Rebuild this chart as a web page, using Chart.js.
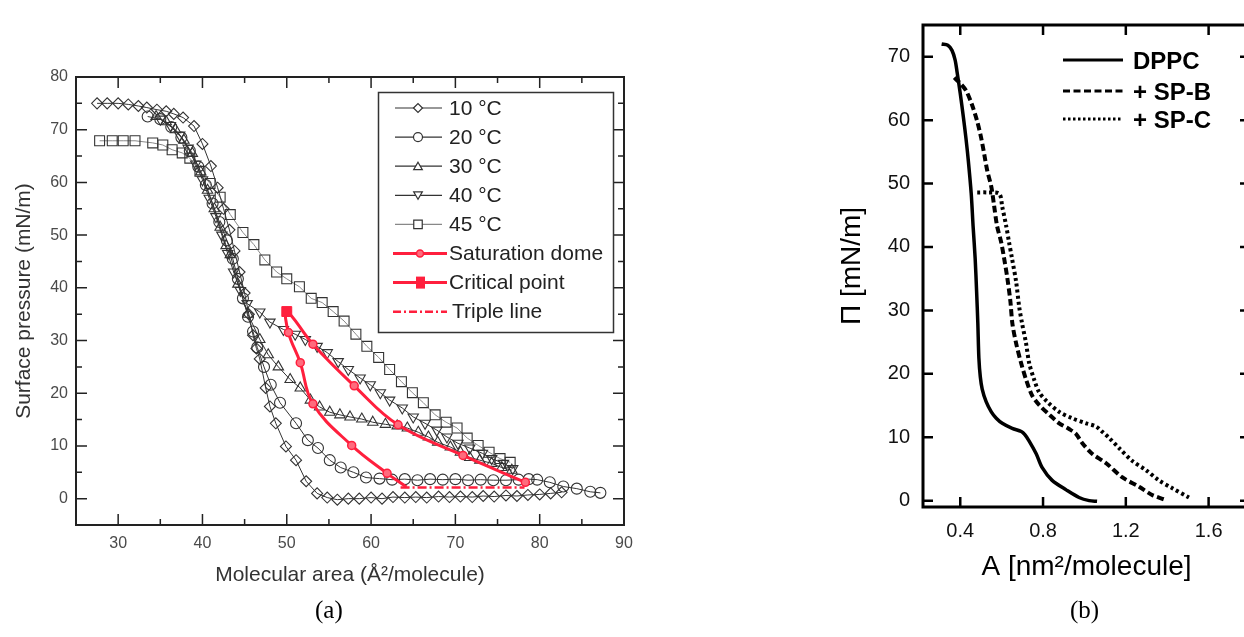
<!DOCTYPE html>
<html><head><meta charset="utf-8">
<script src="https://cdn.jsdelivr.net/npm/chart.js@4/dist/chart.umd.min.js"></script>
<style>
html,body{margin:0;padding:0;background:#fff;width:1244px;height:637px;overflow:hidden;position:relative;}
#wa{position:absolute;left:0;top:0;width:650px;height:600px;}
#wb{position:absolute;left:820px;top:0;width:440px;height:600px;}
.cap{position:absolute;font-family:'Liberation Serif','DejaVu Serif',serif;font-size:25px;top:596px;color:#000;}
</style></head><body>
<div id="wa"><canvas id="ca" width="650" height="600"></canvas></div>
<div id="wb"><canvas id="cb" width="440" height="600"></canvas></div>
<div class="cap" style="left:315px">(a)</div>
<div class="cap" style="left:1070px">(b)</div>
<script>
// ---------- Panel (a) data : [molecular area (Å²), surface pressure (mN/m)] ----------
const xTicksA = [30,40,50,60,70,80,90];
const xMinorA = [35,45,55,65,75,85];
const yTicksA = [0,10,20,30,40,50,60,70,80];
const yMinorA = [5,15,25,35,45,55,65,75];

const t10 = [[27.5,75],[28.7,75],[30,75],[31.2,74.8],[32.4,74.5],[33.4,74.2],[34.6,73.8],[35.7,73.5],[36.6,73],[37.7,72.3],[39,70.7],[40,67.3],[41,63.1],[41.8,59],[42.5,55],[43.2,51],[43.8,47],[44.4,43],[45,39],[45.5,35],[46,31],[46.4,28.5],[46.8,26.5],[47.5,21],[48,17.5],[48.7,14.3],[49.9,9.9],[51.1,7.3],[52.3,3.3],[53.6,1],[54.8,0.2],[56,-0.2],[57.3,0],[58.6,0],[60,0.2],[61.3,0],[62.6,0.3],[64,0.2],[65.3,0.3],[66.6,0.2],[68,0.4],[69.3,0.3],[70.6,0.4],[72,0.3],[73.3,0.5],[74.6,0.4],[76,0.6],[77.3,0.5],[78.6,0.7],[80,0.8],[81.3,1],[82.6,1.2]];
const t20 = [[33.5,72.5],[35,72],[36.3,70.5],[37.5,68.5],[38.5,66],[39.5,63],[40.4,59.5],[41.2,56],[42,52.5],[42.9,49],[43.6,45.5],[44.2,41.7],[44.8,38],[45.4,34.5],[46,31.7],[46.5,28.7],[47.3,25],[48.1,21.6],[49.2,18.2],[51.1,14.3],[52.5,11.1],[53.7,9.6],[55.1,7.3],[56.4,5.9],[57.9,5],[59.4,4],[61,3.8],[62.5,3.6],[64,3.7],[65.5,3.5],[67,3.7],[68.5,3.6],[70,3.7],[71.5,3.5],[73,3.6],[74.5,3.5],[76,3.5],[77.5,3.6],[78.7,3.7],[79.7,3.6],[81.2,3.1],[82.8,2.3],[84.4,1.9],[86,1.3],[87.2,1.1]];
const t30 = [[34.5,72.5],[35.7,71.5],[36.8,70],[37.8,68],[38.8,65.5],[39.8,62],[40.6,58.5],[41.4,55],[42.1,51.5],[42.8,48],[43.3,46.3],[44.2,40.7],[45.4,35],[46.8,30.2],[47.8,27.3],[49,25],[50.4,22.6],[51.6,21],[52.8,18.7],[53.9,17.4],[55.1,16.4],[56.3,15.9],[57.5,15.5],[58.9,15.1],[60.2,14.5],[61.7,14.1],[63.1,13.8],[64.3,13.4],[65.6,12.6],[66.8,11.7],[67.9,10.7],[69.4,9.8],[70.6,8.8],[71.7,7.8],[72.9,7.3],[74.3,6.7],[75.5,5.9],[76.7,5.4]];
const t40 = [[35,72],[36.2,70.8],[37.3,69],[38.3,66.5],[39.2,63.5],[40,60.5],[40.8,57],[41.6,53.5],[42.3,50],[43,46.5],[43.7,43],[44.5,39.5],[45.3,37],[46.8,35.4],[48,33.5],[49.6,32.1],[51,31.2],[52.2,30.2],[53.6,28.9],[54.8,27.7],[56.1,26],[57.3,24.5],[58.7,22.9],[59.9,21.6],[61.1,20.1],[62.2,18.7],[63.7,17.2],[65,15.5],[66.4,14.3],[67.8,13],[69,11.7],[70.3,10.5],[71.7,9.6],[73.2,8.6],[74.3,7.6],[75.7,6.7],[76.8,5.7]];
const t45 = [[27.8,67.9],[29.3,67.9],[30.6,67.9],[32,67.9],[34.1,67.5],[35.3,67.1],[36.4,66.2],[37.6,65.6],[38.5,64.6],[39.7,62.1],[40.9,59.8],[42.1,57.2],[43.3,53.9],[44.8,50.5],[46.1,48.2],[47.4,45.3],[48.8,43],[50,41.7],[51.5,40.2],[52.9,38],[54.2,37.2],[55.5,35.5],[56.8,33.7],[58.2,31.2],[59.5,28.9],[60.9,26.8],[62.2,24.5],[63.6,22.2],[64.9,20.1],[66.2,18.2],[67.6,15.9],[68.9,14.5],[70.2,13.4],[71.4,11.5],[72.7,10.1],[74,8.8],[75.3,7.6],[76.5,6.9]];
const dome = [[64.2,2.2],[61.9,4.8],[57.7,10.1],[53.1,18],[51.6,25.8],[50.2,31.5],[50,35.5],[53.1,29.3],[58,21.4],[63.2,14],[70.9,8.2],[78.3,3.1]];
const critical = [[50,35.5]];
const triple = [[63.5,2.1],[78.2,2.1]];

// ---------- Panel (b) data : [A (nm²/molecule), Π (mN/m)] ----------
const xTicksB = [0.4,0.8,1.2,1.6];
const yTicksB = [0,10,20,30,40,50,60,70];
const dppc = [[0.31,72],[0.34,71.8],[0.36,71],[0.375,69.5],[0.385,67.5],[0.40,64.2],[0.415,60.5],[0.428,57],[0.439,53.6],[0.453,48.4],[0.462,43.3],[0.472,38.2],[0.479,33],[0.485,27.9],[0.49,22.5],[0.497,19.5],[0.506,17.6],[0.525,15.6],[0.55,14],[0.574,13],[0.603,12.2],[0.651,11.4],[0.695,10.9],[0.712,10.4],[0.733,9.4],[0.767,7.4],[0.796,5.2],[0.844,3.2],[0.912,1.7],[0.974,0.5],[1.023,0],[1.061,-0.1]];
const spB = [[0.371,66.7],[0.40,65.8],[0.429,64.6],[0.458,62.3],[0.482,59.8],[0.501,57.2],[0.516,54.6],[0.53,52.1],[0.55,49.5],[0.564,46.4],[0.578,43.3],[0.598,40.7],[0.612,38.2],[0.627,35.2],[0.642,31.5],[0.652,27.9],[0.67,24.8],[0.694,21.7],[0.718,19.1],[0.747,16.6],[0.781,15.1],[0.829,13.6],[0.878,12.2],[0.926,11.3],[0.96,10.5],[0.989,9.1],[1.037,7.4],[1.105,5.9],[1.182,3.7],[1.264,2.2],[1.327,0.9],[1.385,0.2]];
const spC = [[0.482,48.6],[0.53,48.6],[0.588,48.4],[0.603,46.3],[0.622,43.3],[0.636,40.7],[0.65,38.2],[0.67,34.5],[0.685,30.5],[0.699,27.9],[0.718,24.8],[0.733,21.7],[0.757,19.1],[0.781,17.1],[0.82,15.6],[0.878,14],[0.94,13],[1.008,12.2],[1.056,11.7],[1.085,10.9],[1.119,9.9],[1.167,8.3],[1.23,6.3],[1.298,4.8],[1.36,3.2],[1.423,2],[1.505,0.5]];

const toXY = arr => arr.map(p => ({x:p[0], y:p[1]}));
const FONT = "'Liberation Sans', Arial, sans-serif";
Chart.defaults.font.family = FONT;

const RED = '#ff1f3d';
const tempSeries = [
  {label:'10 °C', data:t10, style:'rectRot', r:5.5, rot:0, line:'#333'},
  {label:'20 °C', data:t20, style:'circle', r:5.5, rot:0, line:'#333'},
  {label:'30 °C', data:t30, style:'triangle', r:6, rot:0, line:'#333'},
  {label:'40 °C', data:t40, style:'triangle', r:6, rot:180, line:'#333'},
  {label:'45 °C', data:t45, style:'rect', r:7, rot:0, line:'#888'}
];

function marker(ctx, style, x, y, r, rot){
  ctx.beginPath();
  if(style==='circle'){ctx.arc(x,y,r,0,Math.PI*2);}
  else if(style==='rect'){const s=r*Math.SQRT1_2; ctx.rect(x-s,y-s,2*s,2*s);}
  else if(style==='rectRot'){ctx.moveTo(x-r,y);ctx.lineTo(x,y-r);ctx.lineTo(x+r,y);ctx.lineTo(x,y+r);ctx.closePath();}
  else if(style==='triangle'){let a=(rot||0)*Math.PI/180;for(let i=0;i<3;i++){const px=x+Math.sin(a)*r,py=y-Math.cos(a)*r;if(i)ctx.lineTo(px,py);else ctx.moveTo(px,py);a+=2*Math.PI/3;}ctx.closePath();}
}

function frame(o){
  return {
    id:'frame'+o.id,
    afterDraw(chart){
      const {ctx, chartArea:a, scales:{x,y}} = chart;
      ctx.save();
      ctx.strokeStyle=o.color; ctx.lineWidth=o.tickW; ctx.beginPath();
      const xt=(vals,len)=>vals.forEach(v=>{const p=x.getPixelForValue(v);ctx.moveTo(p,a.bottom);ctx.lineTo(p,a.bottom-len);ctx.moveTo(p,a.top);ctx.lineTo(p,a.top+len);});
      const yt=(vals,len)=>vals.forEach(v=>{const p=y.getPixelForValue(v);ctx.moveTo(a.left,p);ctx.lineTo(a.left+len,p);ctx.moveTo(a.right,p);ctx.lineTo(a.right-len,p);});
      xt(o.xMaj,o.maj); yt(o.yMaj,o.maj);
      if(o.xMin) xt(o.xMin,o.min);
      if(o.yMin) yt(o.yMin,o.min);
      ctx.stroke();
      ctx.lineWidth=o.boxW;
      ctx.strokeRect(a.left,a.top,a.right-a.left,a.bottom-a.top);
      ctx.restore();
    }
  };
}

const legendA = {
  id:'legendA',
  afterDraw(chart){
    const ctx=chart.ctx;
    ctx.save();
    ctx.fillStyle='#fff'; ctx.fillRect(378,92,235,240);
    ctx.strokeStyle='#333'; ctx.lineWidth=1.5; ctx.strokeRect(378.5,92.5,235,240);
    ctx.font="21px "+FONT; ctx.textBaseline='middle'; ctx.textAlign='left';
    const rowY=i=>108+i*29.1;
    tempSeries.forEach((s,i)=>{
      const y=rowY(i);
      ctx.strokeStyle=s.line; ctx.lineWidth=1.2;
      ctx.beginPath(); ctx.moveTo(395,y); ctx.lineTo(442,y); ctx.stroke();
      ctx.fillStyle='#fff'; ctx.strokeStyle='#333';
      const rr = s.style==='rect'?6:(s.style==='triangle'?5:4.5);
      marker(ctx,s.style,418,y+(s.style==='triangle'?(s.rot?-1:1):0),rr,s.rot); ctx.fill(); ctx.stroke();
      ctx.fillStyle='#222'; ctx.fillText(s.label,449,y+1);
    });
    let y=rowY(5);
    ctx.strokeStyle=RED; ctx.lineWidth=3; ctx.beginPath(); ctx.moveTo(393,y); ctx.lineTo(447,y); ctx.stroke();
    ctx.fillStyle='#ff6b7d'; ctx.lineWidth=1.5; marker(ctx,'circle',420,y,3.5); ctx.fill(); ctx.stroke();
    ctx.fillStyle='#222'; ctx.fillText('Saturation dome',449,y+1);
    y=rowY(6);
    ctx.strokeStyle=RED; ctx.lineWidth=3; ctx.beginPath(); ctx.moveTo(393,y); ctx.lineTo(447,y); ctx.stroke();
    ctx.fillStyle=RED; ctx.fillRect(416,y-6,9,12);
    ctx.fillStyle='#222'; ctx.fillText('Critical point',449,y+1);
    y=rowY(7);
    ctx.strokeStyle=RED; ctx.lineWidth=2.5; ctx.setLineDash([8,3,2,3]); ctx.beginPath(); ctx.moveTo(393,y); ctx.lineTo(447,y); ctx.stroke(); ctx.setLineDash([]);
    ctx.fillStyle='#222'; ctx.fillText('Triple line',452,y+1);
    ctx.restore();
  }
};

const legendB = {
  id:'legendB',
  afterDraw(chart){
    const ctx=chart.ctx;
    const ox=-820;
    const items=[
      {t:'DPPC', y:61, dash:[]},
      {t:'+ SP-B', y:92, dash:[7,3.5]},
      {t:'+ SP-C', y:120, dash:[2.5,2.5]}
    ];
    ctx.save();
    ctx.font="bold 24px "+FONT; ctx.textBaseline='middle'; ctx.fillStyle='#000';
    items.forEach(it=>{
      ctx.strokeStyle='#000'; ctx.lineWidth=3; ctx.setLineDash(it.dash);
      ctx.beginPath(); ctx.moveTo(1063+ox,it.y-1); ctx.lineTo(1123+ox,it.y-1); ctx.stroke();
      ctx.setLineDash([]);
      ctx.fillText(it.t,1133+ox,it.y+1);
    });
    ctx.restore();
  }
};

const redDatasets = [
  {label:'Critical point', data:toXY(critical), showLine:false, pointStyle:'rect', pointRadius:7, backgroundColor:RED, borderColor:RED, pointBorderWidth:1},
  {label:'Saturation dome', data:toXY(dome), showLine:true, tension:0.4, borderColor:RED, borderWidth:3,
   pointStyle:'circle', pointRadius:c=>c.dataIndex===0?0:4, pointBackgroundColor:'#ff6b7d', pointBorderColor:RED, pointBorderWidth:1.5},
  {label:'Triple line', data:toXY(triple), showLine:true, borderColor:RED, borderWidth:2.5, borderDash:[9,3,2,3], pointRadius:0}
];
const tempDatasets = tempSeries.map(s=>({
  label:s.label, data:toXY(s.data), showLine:true, tension:0, borderColor:s.line, borderWidth:1,
  pointStyle:s.style, pointRadius:s.r, pointRotation:s.rot, pointBorderColor:'#333', pointBorderWidth:1.1,
  pointBackgroundColor:'rgba(0,0,0,0)', backgroundColor:'rgba(0,0,0,0)'
}));

new Chart(document.getElementById('ca'), {
  type:'scatter',
  data:{datasets:[...redDatasets, ...tempDatasets]},
  options:{
    responsive:false, animation:false, devicePixelRatio:1,
    layout:{padding:{top:77,right:26,left:0,bottom:0}},
    plugins:{legend:{display:false}, tooltip:{enabled:false}},
    scales:{
      x:{type:'linear', min:25, max:90,
        afterBuildTicks:s=>{s.ticks=xTicksA.map(v=>({value:v}));},
        afterFit:s=>{s.height=75;},
        grid:{display:false, drawTicks:false}, border:{display:false},
        ticks:{padding:9, color:'#4a4a4a', font:{size:16}, callback:v=>String(v)},
        title:{display:true, text:'Molecular area (Å²/molecule)', color:'#333', font:{size:21}, padding:{top:0,bottom:12}}},
      y:{type:'linear', min:-5, max:80,
        afterBuildTicks:s=>{s.ticks=yTicksA.map(v=>({value:v}));},
        afterFit:s=>{s.width=76;},
        grid:{display:false, drawTicks:false}, border:{display:false},
        ticks:{padding:8, color:'#4a4a4a', font:{size:16}, callback:v=>String(v)},
        title:{display:true, text:'Surface pressure (mN/m)', color:'#333', font:{size:21}, padding:{top:12,bottom:0}}}
    }
  },
  plugins:[frame({id:'a', color:'#222', tickW:1.5, boxW:2, xMaj:xTicksA, yMaj:yTicksA, xMin:xMinorA, yMin:yMinorA, maj:11, min:6}), legendA]
});

new Chart(document.getElementById('cb'), {
  type:'scatter',
  data:{datasets:[
    {label:'DPPC', data:toXY(dppc), showLine:true, tension:0.3, borderColor:'#000', borderWidth:3.5, pointRadius:0},
    {label:'+ SP-B', data:toXY(spB), showLine:true, tension:0.3, borderColor:'#000', borderWidth:4, borderDash:[7,3.5], pointRadius:0},
    {label:'+ SP-C', data:toXY(spC), showLine:true, tension:0.3, borderColor:'#000', borderWidth:4, borderDash:[3,3], pointRadius:0}
  ]},
  options:{
    responsive:false, animation:false, devicePixelRatio:1,
    layout:{padding:{top:15,right:10,left:0,bottom:0}},
    plugins:{legend:{display:false}, tooltip:{enabled:false}},
    scales:{
      x:{type:'linear', min:0.22, max:1.8,
        afterBuildTicks:s=>{s.ticks=xTicksB.map(v=>({value:v}));},
        afterFit:s=>{s.height=93;},
        grid:{display:false, drawTicks:false}, border:{display:false},
        ticks:{padding:12, color:'#111', font:{size:20}, callback:v=>Number(v).toFixed(1)},
        title:{display:true, text:'A [nm²/molecule]', color:'#000', font:{size:28}, padding:{top:0,bottom:16}}},
      y:{type:'linear', min:-1, max:75,
        afterBuildTicks:s=>{s.ticks=yTicksB.map(v=>({value:v}));},
        afterFit:s=>{s.width=103;},
        grid:{display:false, drawTicks:false}, border:{display:false},
        ticks:{padding:13, color:'#111', font:{size:20}, callback:v=>String(v)},
        title:{display:true, text:'Π [mN/m]', color:'#000', font:{size:28}, padding:{top:15,bottom:0}}}
    }
  },
  plugins:[frame({id:'b', color:'#000', tickW:2.5, boxW:3, xMaj:xTicksB, yMaj:yTicksB, maj:10, min:0}), legendB]
});
</script>
</body></html>
